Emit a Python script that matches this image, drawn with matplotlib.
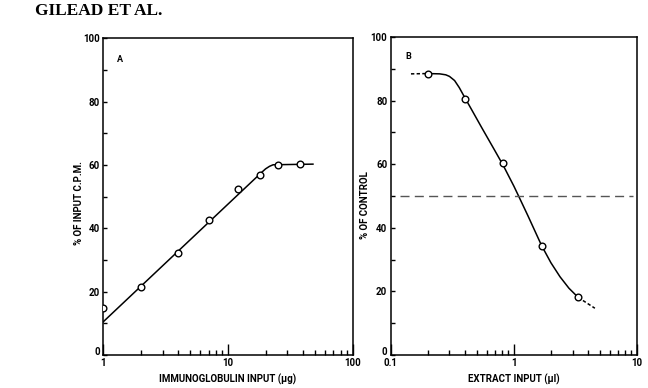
import matplotlib
matplotlib.use("Agg")
import matplotlib.pyplot as plt
import matplotlib.transforms as mtransforms
from matplotlib.ticker import FixedLocator, NullFormatter

plt.rcParams["font.family"] = ["Roboto", "DejaVu Sans"]

# Panel A: immunoglobulin input vs % of input c.p.m.
a_x = [1, 2, 4, 7, 12, 18, 25, 38]
a_y = [15, 21.5, 32.3, 42.6, 52.3, 56.8, 60.1, 60.4]
a_curve_x = [1, 18.5, 20, 21.5, 23, 48]
a_curve_y = [10.5, 57.6, 58.8, 59.6, 60.1, 60.3]

# Panel B: extract input vs % of control
b_x = [0.2, 0.4, 0.82, 1.68, 3.33]
b_y = [88.5, 80.4, 60.3, 34.3, 18.1]
b_curve_x = [0.2, 0.25, 0.28, 0.3, 0.33, 0.36, 0.4, 0.45, 0.548, 0.7, 0.82, 1.0, 1.086, 1.3, 1.68, 2.0, 2.37, 2.8, 3.33]
b_curve_y = [88.5, 88.4, 88.1, 87.6, 86.3, 84.1, 80.9, 77.4, 71.5, 64.3, 59.6, 53.1, 50.2, 43.8, 34.4, 29.0, 24.6, 21.0, 18.1]
b_start_x = [0.146, 0.2]
b_start_y = [88.4, 88.5]
b_end_x = [3.33, 4.55]
b_end_y = [18.1, 14.7]
half_line = 50

fig = plt.figure(figsize=(6.48, 3.88), dpi=100)
fig.text(0.054, 0.972, "GILEAD ET AL.", family="Liberation Serif", weight="bold",
         fontsize=12.5, va="center", ha="left")

ax_a = fig.add_axes([0.1594, 0.0851, 0.3849, 0.8157])
ax_b = fig.add_axes([0.603, 0.0851, 0.380, 0.8196])

mk = dict(marker="o", markersize=4.8, markerfacecolor="white", markeredgecolor="black",
          markeredgewidth=1.0, linestyle="none", zorder=5)

ax_a.plot(a_curve_x, a_curve_y, color="black", lw=1.1)
ax_a.plot(a_x, a_y, **mk)
ax_a.text(0.055, 0.925, "A", transform=ax_a.transAxes, fontsize=6.5, weight="bold")

ax_b.plot(b_curve_x, b_curve_y, color="black", lw=1.1)
ax_b.plot(b_start_x, b_start_y, color="black", lw=1.1, dashes=(2.2, 1.5))
ax_b.plot(b_end_x, b_end_y, color="black", lw=1.1, dashes=(2.2, 1.5))
ax_b.plot([0.119, 9.3], [half_line, half_line], color="#555555", lw=1.0, dashes=(6.5, 3.8))
ax_b.plot(b_x, b_y, **mk)
ax_b.text(0.06, 0.93, "B", transform=ax_b.transAxes, fontsize=6.5, weight="bold")

panels = [
    (ax_a, (1, 100), [1, 10, 100], ["1", "10", "100"], "IMMUNOGLOBULIN INPUT (\u00b5g)",
     "% OF INPUT C.P.M.", (-0.079, 0.48)),
    (ax_b, (0.1, 10), [0.1, 1, 10], ["0.1", "1", "10"], "EXTRACT INPUT (\u00b5l)",
     "% OF CONTROL", (-0.086, 0.47)),
]
for ax, xlim, xt, xtl, xlabel, ylabel, ypos in panels:
    ax.set_xscale("log")
    ax.set_xlim(*xlim)
    ax.set_ylim(0, 100)
    ax.xaxis.set_major_locator(FixedLocator(xt))
    ax.set_xticklabels(xtl)
    minors = [m * d for d in xt[:-1] for m in range(2, 10)]
    ax.xaxis.set_minor_locator(FixedLocator(minors))
    ax.xaxis.set_minor_formatter(NullFormatter())
    ax.set_yticks([0, 20, 40, 60, 80, 100])
    ax.yaxis.set_minor_locator(FixedLocator([10, 30, 50, 70, 90]))
    ax.tick_params(axis="both", which="both", direction="in", width=1.0,
                   labelsize=7, pad=2.5, top=False, right=False)
    ax.tick_params(axis="x", which="major", length=8)
    ax.tick_params(axis="x", which="minor", length=3.5)
    ax.tick_params(axis="y", which="both", length=3)
    for lab in ax.get_xticklabels() + ax.get_yticklabels():
        lab.set_fontweight("bold")
    for s in ax.spines.values():
        s.set_linewidth(1.1)
    ax.set_xlabel(xlabel, fontsize=7, weight="bold", labelpad=4)
    ax.set_ylabel(ylabel, fontsize=7, weight="bold")
    ax.yaxis.set_label_coords(*ypos)
    # the "0" label sits a little above the bottom spine in the original
    zero = ax.get_yticklabels()[0]
    zero.set_transform(zero.get_transform() + mtransforms.ScaledTranslation(0, 3 / 72, fig.dpi_scale_trans))

fig.savefig("out.png", dpi=100)
